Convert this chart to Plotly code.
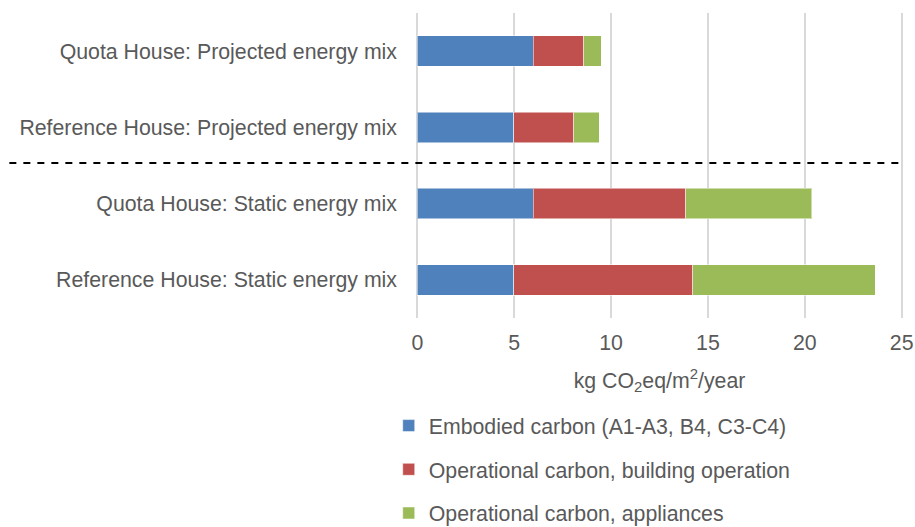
import plotly.graph_objects as go

# Categories listed bottom to top
categories = [
    "Reference House: Static energy mix",
    "Quota House: Static energy mix",
    "Reference House: Projected energy mix",
    "Quota House: Projected energy mix",
]
embodied = [4.97, 5.97, 4.97, 5.97]
building_operation = [9.24, 7.89, 3.10, 2.62]
appliances = [9.42, 6.49, 1.33, 0.91]

series_names = [
    "Embodied carbon (A1-A3, B4, C3-C4)",
    "Operational carbon, building operation",
    "Operational carbon, appliances",
]
series_colors = ["#4F81BD", "#C0504D", "#9BBB59"]
series_values = [embodied, building_operation, appliances]

x_ticks = [0, 5, 10, 15, 20, 25]

FONT = "Liberation Sans, Arial, sans-serif"
TEXT = "#595959"
SIZE = 21.3

fig = go.Figure()
for i, (name, color, vals) in enumerate(zip(series_names, series_colors, series_values)):
    fig.add_trace(go.Bar(
        y=categories, x=vals, name=name, orientation="h",
        marker=dict(color=color, line=dict(color="rgba(255,255,255,0.5)", width=1)),
        legendgroup=f"g{i}",
    ))

# Dashed separator between projected and static energy-mix groups
fig.add_shape(
    type="line", xref="paper", yref="paper",
    x0=-0.835, x1=0.996, y0=0.508, y1=0.508,
    line=dict(color="black", width=2, dash="7px,7px"),
)

fig.update_layout(
    width=915, height=527,
    barmode="stack", bargap=0.6,
    plot_bgcolor="white", paper_bgcolor="white",
    margin=dict(l=416, r=12, t=13, b=209),
    font=dict(family=FONT, size=SIZE, color=TEXT),
    xaxis=dict(
        range=[-0.07, 25.07], tickvals=x_ticks, showgrid=True, gridcolor="#D9D9D9", gridwidth=2,
        zeroline=False, showline=False, ticks="", ticklabelstandoff=10, automargin=False,
        tickfont=dict(size=SIZE, color=TEXT),
        title=dict(text="kg CO<sub>2</sub>eq/m<sup>2</sup>/year", font=dict(size=SIZE, color=TEXT), standoff=18),
    ),
    yaxis=dict(
        categoryorder="array", categoryarray=categories,
        showgrid=False, zeroline=False, showline=False, ticks="", automargin=False,
        ticklabelstandoff=18, tickfont=dict(size=SIZE, color=TEXT),
    ),
    legend=dict(
        orientation="v", traceorder="grouped", tracegroupgap=13,
        x=-0.056, xanchor="left", yref="container", y=0.231, yanchor="top",
        font=dict(size=SIZE, color=TEXT), bgcolor="rgba(0,0,0,0)",
    ),
)

fig.write_html("out.html")
